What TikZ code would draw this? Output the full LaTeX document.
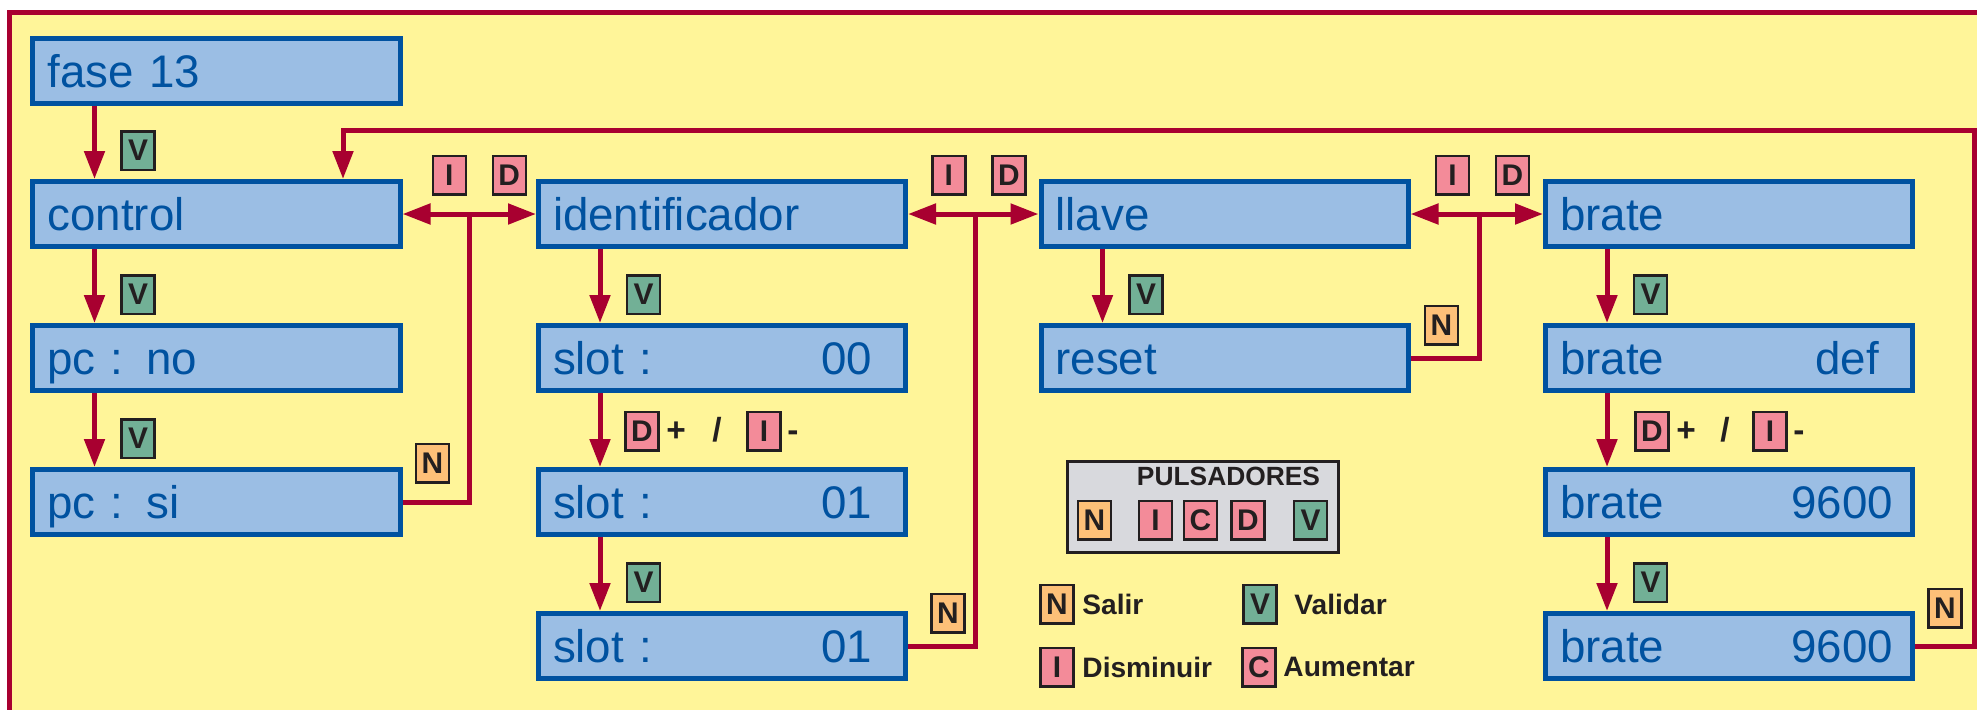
\documentclass[tikz,border=0pt]{standalone}
\usepackage{fontspec}
\setmainfont{Liberation Sans}
\usetikzlibrary{arrows.meta,positioning,calc}
\definecolor{bgyellow}{RGB}{255,245,153}
\definecolor{framered}{RGB}{168,0,48}
\definecolor{lcdfill}{RGB}{155,190,228}
\definecolor{lcdblue}{RGB}{0,82,160}
\definecolor{vgreen}{RGB}{114,176,150}
\definecolor{keypink}{RGB}{243,139,153}
\definecolor{keyorange}{RGB}{253,192,120}
\definecolor{keygray}{RGB}{216,217,221}
\definecolor{keyline}{RGB}{35,31,32}
\tikzset{
  >={Triangle[length=0.28cm,width=0.2cm]},
  lcd/.style={draw=lcdblue, fill=lcdfill, line width=0.05cm, text=lcdblue,
    font=\fontsize{13}{15}\selectfont, text width=3.38cm, inner xsep=0.145cm,
    inner ysep=0pt, text height=0.42cm, text depth=0.09cm,
    minimum height=0.65cm, align=left},
  flow/.style={draw=framered, line width=0.05cm},
  key/.style={draw=keyline, line width=0.025cm, minimum width=0.33cm,
    minimum height=0.385cm, inner sep=0pt, text=keyline,
    font=\bfseries\fontsize{8.5}{10}\selectfont},
  vkey/.style={key, fill=vgreen},
  pkey/.style={key, fill=keypink},
  nkey/.style={key, fill=keyorange},
  keytext/.style={inner sep=0pt, text=keyline, font=\bfseries\fontsize{8}{10}\selectfont},
  signtext/.style={keytext, font=\bfseries\fontsize{9.5}{10}\selectfont,
    text height=0.2cm, text depth=0pt}
}
\begin{document}
\begin{tikzpicture}
    \useasboundingbox (0,0) rectangle (19.77,7.09);
    \clip (0,0) rectangle (19.77,7.09);
    \fill[white] (0,0) rectangle (19.77,7.09);
    % Frame
    \draw[framered, line width=0.05cm, fill=bgyellow] (0.095,-1) rectangle (21,6.965);
    % Displays
    \node[lcd] (fase) at (2.165,6.385) {fase 13};
    \node[lcd] (ctl) at (2.165,4.95) {control};
    \node[lcd] (pcno) at (2.165,3.51) {pc : no};
    \node[lcd] (pcsi) at (2.165,2.07) {pc : si};
    \node[lcd] (ident) at (7.22,4.95) {identificador};
    \node[lcd] (slot0) at (7.22,3.51) {slot :\hfill 00\hspace*{0.19cm}};
    \node[lcd] (slot1) at (7.22,2.07) {slot :\hfill 01\hspace*{0.19cm}};
    \node[lcd] (slot2) at (7.22,0.63) {slot :\hfill 01\hspace*{0.19cm}};
    \node[lcd] (llave) at (12.245,4.95) {llave};
    \node[lcd] (reset) at (12.245,3.51) {reset};
    \node[lcd] (brate) at (17.29,4.95) {brate};
    \node[lcd] (bdef) at (17.29,3.51) {brate\hfill def\hspace*{0.19cm}};
    \node[lcd] (bval) at (17.29,2.07) {brate\hfill 9600\hspace*{0.05cm}};
    \node[lcd] (bok) at (17.29,0.63) {brate\hfill 9600\hspace*{0.05cm}};
    % Validar steps
    \draw[flow, ->] ([xshift=-1.22cm]fase.south) -- ([xshift=-1.22cm]ctl.north);
    \draw[flow, ->] ([xshift=-1.22cm]ctl.south) -- ([xshift=-1.22cm]pcno.north);
    \draw[flow, ->] ([xshift=-1.22cm]pcno.south) -- ([xshift=-1.22cm]pcsi.north);
    \draw[flow, ->] ([xshift=-1.22cm]ident.south) -- ([xshift=-1.22cm]slot0.north);
    \draw[flow, ->] ([xshift=-1.22cm]slot0.south) -- ([xshift=-1.22cm]slot1.north);
    \draw[flow, ->] ([xshift=-1.22cm]slot1.south) -- ([xshift=-1.22cm]slot2.north);
    \draw[flow, ->] ([xshift=-1.22cm]llave.south) -- ([xshift=-1.22cm]reset.north);
    \draw[flow, ->] ([xshift=-1.22cm]brate.south) -- ([xshift=-1.22cm]bdef.north);
    \draw[flow, ->] ([xshift=-1.22cm]bdef.south) -- ([xshift=-1.22cm]bval.north);
    \draw[flow, ->] ([xshift=-1.22cm]bval.south) -- ([xshift=-1.22cm]bok.north);
    \node[vkey] (v1) at ([xshift=-0.785cm,yshift=0.285cm]ctl.north) {V};
    \node[vkey] (v2) at ([xshift=-0.785cm,yshift=0.285cm]pcno.north) {V};
    \node[vkey] (v3) at ([xshift=-0.785cm,yshift=0.285cm]pcsi.north) {V};
    \node[vkey] (v4) at ([xshift=-0.785cm,yshift=0.285cm]slot0.north) {V};
    \node[vkey] (v5) at ([xshift=-0.785cm,yshift=0.285cm]slot2.north) {V};
    \node[vkey] (v6) at ([xshift=-0.785cm,yshift=0.285cm]reset.north) {V};
    \node[vkey] (v7) at ([xshift=-0.785cm,yshift=0.285cm]bdef.north) {V};
    \node[vkey] (v8) at ([xshift=-0.785cm,yshift=0.285cm]bok.north) {V};
    % D+ / I-
    \node[pkey] (dslot) at ([xshift=-0.8cm,yshift=0.36cm]slot1.north) {D};
    \node[signtext, right=0.06cm of dslot] (plslot) {+};
    \node[signtext] (slslot) at ([xshift=-0.05cm,yshift=0.36cm]slot1.north) {/};
    \node[pkey] (islot) at ([xshift=0.42cm,yshift=0.36cm]slot1.north) {I};
    \node[signtext, right=0.05cm of islot] (mislot) {-};
    \node[pkey] (dbrate) at ([xshift=-0.77cm,yshift=0.36cm]bval.north) {D};
    \node[signtext, right=0.06cm of dbrate] (plbrate) {+};
    \node[signtext] (slbrate) at ([xshift=-0.04cm,yshift=0.36cm]bval.north) {/};
    \node[pkey] (ibrate) at ([xshift=0.41cm,yshift=0.36cm]bval.north) {I};
    \node[signtext, right=0.05cm of ibrate] (mibrate) {-};
    % I / D between menus
    \draw[flow, <->] (ctl.east) -- (ident.west);
    \draw[flow, <->] (ident.east) -- (llave.west);
    \draw[flow, <->] (llave.east) -- (brate.west);
    \coordinate (j1) at ($(ctl.east)!0.5!(ident.west)$);
    \coordinate (j2) at ($(ident.east)!0.52!(llave.west)$);
    \coordinate (j3) at ($(llave.east)!0.52!(brate.west)$);
    \node[pkey] (i1) at ([xshift=-0.2cm,yshift=0.39cm]j1) {I};
    \node[pkey] (d1) at ([xshift=0.4cm,yshift=0.39cm]j1) {D};
    \node[pkey] (i2) at ([xshift=-0.27cm,yshift=0.39cm]j2) {I};
    \node[pkey] (d2) at ([xshift=0.33cm,yshift=0.39cm]j2) {D};
    \node[pkey] (i3) at ([xshift=-0.27cm,yshift=0.39cm]j3) {I};
    \node[pkey] (d3) at ([xshift=0.33cm,yshift=0.39cm]j3) {D};
    % Salir
    \draw[flow] (pcsi.east) -| (j1);
    \draw[flow] (slot2.east) -| (j2);
    \draw[flow] (reset.east) -| (j3);
    \coordinate (ret) at (19.74,5.79);
    \draw[flow, ->] (bok.east) -| (ret) -| ([xshift=1.265cm]ctl.north);
    \node[nkey] (n1) at ([xshift=0.3cm,yshift=0.39cm]pcsi.east) {N};
    \node[nkey] (n2) at ([xshift=0.4cm,yshift=0.33cm]slot2.east) {N};
    \node[nkey] (n3) at ([xshift=0.31cm,yshift=0.33cm]reset.east) {N};
    \node[nkey] (n4) at ([xshift=0.3cm,yshift=0.38cm]bok.east) {N};
    % Pulsadores
    \node[draw=keyline, fill=keygray, line width=0.03cm, minimum width=2.71cm,
      minimum height=0.91cm] (puls) at (12.03,2.02) {};
    \node[keytext, font=\bfseries\fontsize{7.5}{9}\selectfont] (ptitle) at (12.285,2.33) {PULSADORES};
    \node[nkey] (pn) at (10.945,1.89) {N};
    \node[pkey] (pi) at (11.555,1.89) {I};
    \node[pkey] (pc) at (12.005,1.89) {C};
    \node[pkey] (pd) at (12.48,1.89) {D};
    \node[vkey] (pv) at (13.105,1.89) {V};
    % Legend
    \node[nkey] (ln) at (10.57,1.05) {N};
    \node[keytext, right=0.07cm of ln] (lntext) {Salir};
    \node[vkey] (lv) at (12.6,1.05) {V};
    \node[keytext, right=0.16cm of lv] (lvtext) {Validar};
    \node[pkey] (li) at (10.57,0.42) {I};
    \node[keytext, right=0.07cm of li] (litext) {Disminuir};
    \node[pkey] (lc) at (12.59,0.42) {C};
    \node[keytext, right=0.06cm of lc] (lctext) {Aumentar};
\end{tikzpicture}
\end{document}
